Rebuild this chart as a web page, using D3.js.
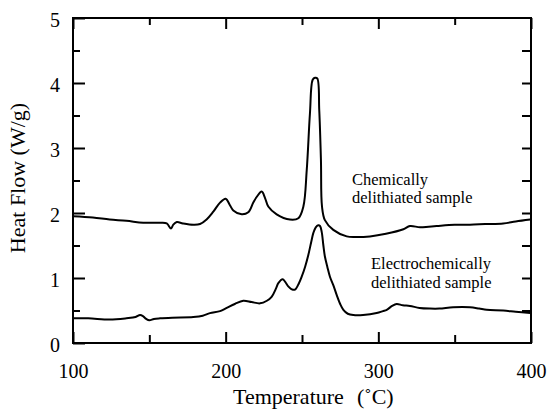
<!DOCTYPE html>
<html>
<head>
<meta charset="utf-8">
<script src="https://cdn.jsdelivr.net/npm/d3@7"></script>
</head>
<body style="margin:0">
<svg id="chart" width="549" height="416" font-family="Liberation Serif"></svg>
<script>
// ---- Data ----
const chemT = [100,113,124,135,146,157,161.4,164.2,165.7,168,172,178.8,183.2,187.5,191.9,196.3,200,202.8,205,210.5,214.8,218.1,220.4,223.6,225.8,227.9,233.4,242.1,247.6,250.9,253.1,255.2,257,258.5,260,261.3,262.4,263.1,265,270.5,279.3,285,294.5,305,316.4,320.7,327.3,333,338.2,350,360,370,381.8,390,399.5];
const chemY = [1.95,1.93,1.90,1.88,1.85,1.85,1.84,1.76,1.82,1.86,1.84,1.82,1.83,1.90,2.02,2.16,2.22,2.12,2.04,1.98,2.01,2.16,2.25,2.33,2.23,2.10,1.98,1.90,1.92,2.10,2.66,3.53,4.05,4.08,4.07,3.58,2.82,2.10,1.89,1.74,1.64,1.63,1.64,1.68,1.75,1.80,1.78,1.79,1.80,1.82,1.82,1.83,1.84,1.87,1.90];

const elecT = [100,110,124,135,141,143.9,146,148,150,153,157,165,178.8,185,189.7,196.3,200.7,206,211.5,217,222.5,227,230.1,233,234.5,237.3,239,241,243,245.4,248,249.8,252,254.1,256,257.4,259,260.6,261.8,262.9,264,265,266.6,268.3,270.5,272.7,275,277.1,280,283.6,290,298.9,303,305.5,309,312,316,320.7,327,333.8,340,349,360,366,371,381.8,390,399.5];
const elecY = [0.38,0.38,0.36,0.38,0.40,0.43,0.41,0.37,0.35,0.37,0.38,0.39,0.40,0.42,0.46,0.49,0.54,0.60,0.65,0.63,0.61,0.65,0.71,0.84,0.92,0.98,0.94,0.87,0.83,0.82,0.92,1.02,1.17,1.35,1.55,1.69,1.78,1.81,1.80,1.71,1.50,1.33,1.17,1.02,0.89,0.74,0.60,0.51,0.45,0.43,0.43,0.46,0.49,0.51,0.57,0.60,0.58,0.57,0.54,0.53,0.53,0.55,0.55,0.53,0.51,0.50,0.48,0.46];

const xMajor = [100,200,300,400];
const xMinor = [150,250,350];
const yMajor = [0,1,2,3,4,5];
const yMinor = [0.5,1.5,2.5,3.5,4.5];
const yRight = [0.5,1,1.5,2,2.5,3,3.5,4,4.5];

const xTitle = "Temperature";
const xUnit = "(\u02DAC)";
const yTitle = "Heat Flow (W/g)";
const labelChem = ["Chemically", "delithiated sample"];
const labelElec = ["Electrochemically", "delithiated sample"];

const FONT = "Liberation Serif";

// ---- Layout ----
const L = 73, R = 531, T = 18, B = 343;
const svg = d3.select("#chart");
const x = d3.scaleLinear().domain([100,400]).range([L,R]);
const y = d3.scaleLinear().domain([0,5]).range([B,T]);

function styleAxis(g) {
  g.attr("font-family", FONT).attr("font-size", 20);
  g.select(".domain").remove();
  g.selectAll(".tick line").attr("stroke","#000").attr("stroke-width",2);
  g.selectAll(".tick text").attr("font-family", FONT).attr("font-size", 20).attr("fill","#000");
}

// bottom axis
svg.append("g").attr("transform",`translate(0,${B})`)
  .call(d3.axisBottom(x).tickValues(xMajor).tickSize(-11).tickPadding(21).tickFormat(d3.format("d")))
  .call(styleAxis);
svg.append("g").attr("transform",`translate(0,${B})`)
  .call(d3.axisBottom(x).tickValues(xMinor).tickSize(-8).tickFormat(""))
  .call(styleAxis);
// top axis
svg.append("g").attr("transform",`translate(0,${T})`)
  .call(d3.axisTop(x).tickValues(xMajor).tickSize(-11).tickFormat(""))
  .call(styleAxis);
svg.append("g").attr("transform",`translate(0,${T})`)
  .call(d3.axisTop(x).tickValues(xMinor).tickSize(-7).tickFormat(""))
  .call(styleAxis);
// left axis
svg.append("g").attr("transform",`translate(${L},0)`)
  .call(d3.axisLeft(y).tickValues(yMajor).tickSize(-12).tickPadding(13).tickFormat(d3.format("d")))
  .call(styleAxis)
  .call(g => g.selectAll(".tick text").attr("dy","0.4em"));
svg.append("g").attr("transform",`translate(${L},0)`)
  .call(d3.axisLeft(y).tickValues(yMinor).tickSize(-7).tickFormat(""))
  .call(styleAxis);
// right axis
svg.append("g").attr("transform",`translate(${R},0)`)
  .call(d3.axisRight(y).tickValues(yRight).tickSize(-9).tickFormat(""))
  .call(styleAxis);

// frame
svg.append("rect").attr("x",L).attr("y",T).attr("width",R-L).attr("height",B-T)
  .attr("fill","none").attr("stroke","#000").attr("stroke-width",2);

// curves
const line = d3.line().x(d => x(d[0])).y(d => y(d[1])).curve(d3.curveCatmullRom.alpha(0.5));
svg.append("path").datum(d3.zip(chemT, chemY)).attr("d", line)
  .attr("fill","none").attr("stroke","#000").attr("stroke-width",2).attr("stroke-linejoin","round");
svg.append("path").datum(d3.zip(elecT, elecY)).attr("d", line)
  .attr("fill","none").attr("stroke","#000").attr("stroke-width",2).attr("stroke-linejoin","round");

// annotations
function addText(xp, yp, str, size) {
  return svg.append("text").attr("x",xp).attr("y",yp)
    .attr("font-family", FONT).attr("font-size", size).attr("fill","#000").text(str);
}
addText(352, 184.5, labelChem[0], 16.5);
addText(352, 203, labelChem[1], 16.5);
addText(371, 268.5, labelElec[0], 16.5);
addText(371, 288, labelElec[1], 16.5);

// axis titles
const xt = svg.append("text").attr("y",403.5)
  .attr("font-family", FONT).attr("font-size", 22).attr("fill","#000");
xt.append("tspan").attr("x",233).text(xTitle);
xt.append("tspan").attr("x",357).text(xUnit);

svg.append("text").attr("transform","translate(25,178) rotate(-90)")
  .attr("text-anchor","middle").attr("font-family", FONT).attr("font-size", 22)
  .attr("fill","#000").text(yTitle);
</script>
</body>
</html>
